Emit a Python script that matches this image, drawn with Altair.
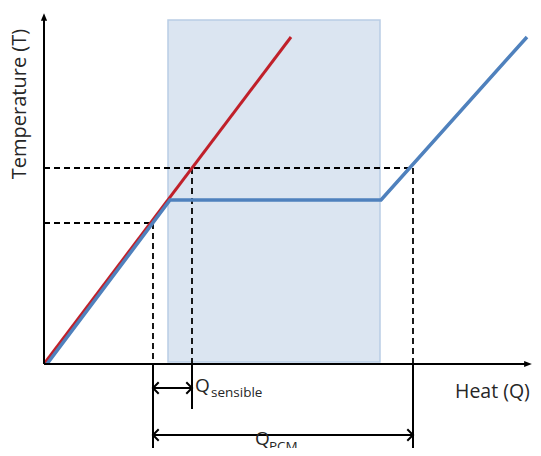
import altair as alt
import pandas as pd

# Diagram coordinates: Q (heat) and T (temperature), origin at the axes' corner
red_q = [0, 247]
red_t = [0, 327]
blue_q = [3, 126, 337, 483]
blue_t = [0, 164, 164, 327]

pcm_zone = {"q1": 124, "q2": 336, "t1": 2, "t2": 344}

T_hi, T_lo = 196, 141
Q_lo, Q_sens, Q_pcm = 109, 148, 369
BOTTOM = -84

axes_seg = [(0, 0, 0, 347), (0, 0, 484, 0)]
dashed_seg = [(0, T_hi, Q_pcm, T_hi), (Q_pcm, T_hi, Q_pcm, 0), (Q_sens, T_hi, Q_sens, 0),
              (0, T_lo, Q_lo, T_lo), (Q_lo, T_lo, Q_lo, 0)]
drop_seg = [(Q_lo, 0, Q_lo, BOTTOM), (Q_sens, 0, Q_sens, -45), (Q_pcm, 0, Q_pcm, BOTTOM)]
arrow_seg = [(Q_lo, -24, Q_sens, -24), (Q_lo, -71, Q_pcm, -71)]

labels = [
    {"q": 411, "t": -34, "text": "Heat (Q)", "size": 19.5},
    {"q": 151, "t": -28, "text": "Q", "size": 19},
    {"q": 167, "t": -33, "text": "sensible", "size": 13.5},
    {"q": 211, "t": -81, "text": "Q", "size": 19},
    {"q": 225, "t": -87, "text": "PCM", "size": 13.5},
]

xs = alt.Scale(domain=[-36, 489], nice=False, zero=False)
ys = alt.Scale(domain=[BOTTOM, 356], nice=False, zero=False)


def segdf(segs):
    return pd.DataFrame(segs, columns=["q", "t", "q2", "t2"])


def rules(segs, **kw):
    return alt.Chart(segdf(segs)).mark_rule(**kw).encode(
        x=alt.X("q:Q", scale=xs, axis=None),
        y=alt.Y("t:Q", scale=ys, axis=None),
        x2="q2:Q", y2="t2:Q")


rect = alt.Chart(pd.DataFrame([pcm_zone])).mark_rect(
    fill="#dbe5f1", stroke="#b9cde5", strokeWidth=1.5).encode(
    x=alt.X("q1:Q", scale=xs, axis=None), x2="q2:Q",
    y=alt.Y("t1:Q", scale=ys, axis=None), y2="t2:Q")

dashed = rules(dashed_seg, color="black", strokeWidth=1.8, strokeDash=[6, 4])
drops = rules(drop_seg, color="black", strokeWidth=2)
axes = rules(axes_seg, color="black", strokeWidth=2)
arrows = rules(arrow_seg, color="black", strokeWidth=2)

red = alt.Chart(pd.DataFrame({"q": red_q, "t": red_t})).mark_line(
    color="#c0202a", strokeWidth=3).encode(
    x=alt.X("q:Q", scale=xs, axis=None), y=alt.Y("t:Q", scale=ys, axis=None))
blue = alt.Chart(pd.DataFrame({"q": blue_q, "t": blue_t})).mark_line(
    color="#4f81bd", strokeWidth=3.5).encode(
    x=alt.X("q:Q", scale=xs, axis=None), y=alt.Y("t:Q", scale=ys, axis=None))

heads_df = pd.DataFrame({"q": [0, 484], "t": [347, 0],
                         "shape": ["M0,-1L0.8,1L-0.8,1Z", "M1,0L-1,0.8L-1,-0.8Z"]})
heads = alt.Chart(heads_df).mark_point(filled=True, color="black", opacity=1, size=60).encode(
    x=alt.X("q:Q", scale=xs, axis=None), y=alt.Y("t:Q", scale=ys, axis=None),
    shape=alt.Shape("shape:N", scale=None))

chev_df = pd.DataFrame({"q": [Q_lo, Q_sens, Q_lo, Q_pcm], "t": [-24, -24, -71, -71],
                        "shape": ["M1,-1L0,0L1,1", "M-1,-1L0,0L-1,1",
                                  "M1,-1L0,0L1,1", "M-1,-1L0,0L-1,1"]})
chev = alt.Chart(chev_df).mark_point(filled=False, color="black", strokeWidth=2,
                                     opacity=1, size=130).encode(
    x=alt.X("q:Q", scale=xs, axis=None), y=alt.Y("t:Q", scale=ys, axis=None),
    shape=alt.Shape("shape:N", scale=None))

txt = alt.Chart(pd.DataFrame(labels)).mark_text(
    align="left", baseline="alphabetic", font="Open Sans", color="#262626").encode(
    x=alt.X("q:Q", scale=xs, axis=None), y=alt.Y("t:Q", scale=ys, axis=None),
    text="text:N", size=alt.Size("size:Q", scale=None, legend=None))

ytitle = alt.Chart(pd.DataFrame({"q": [-24], "t": [260], "text": ["Temperature (T)"]})).mark_text(
    angle=270, align="center", baseline="middle", font="Open Sans", fontSize=20,
    color="#262626").encode(
    x=alt.X("q:Q", scale=xs, axis=None), y=alt.Y("t:Q", scale=ys, axis=None), text="text:N")

chart = alt.layer(rect, dashed, drops, red, blue, axes, arrows, heads, chev, txt, ytitle).properties(
    width=525, height=440, padding=0, autosize=alt.AutoSizeParams(type="none")
).configure_view(stroke=None)

chart.save("out.html", embed_options={"renderer": "svg", "actions": False})
